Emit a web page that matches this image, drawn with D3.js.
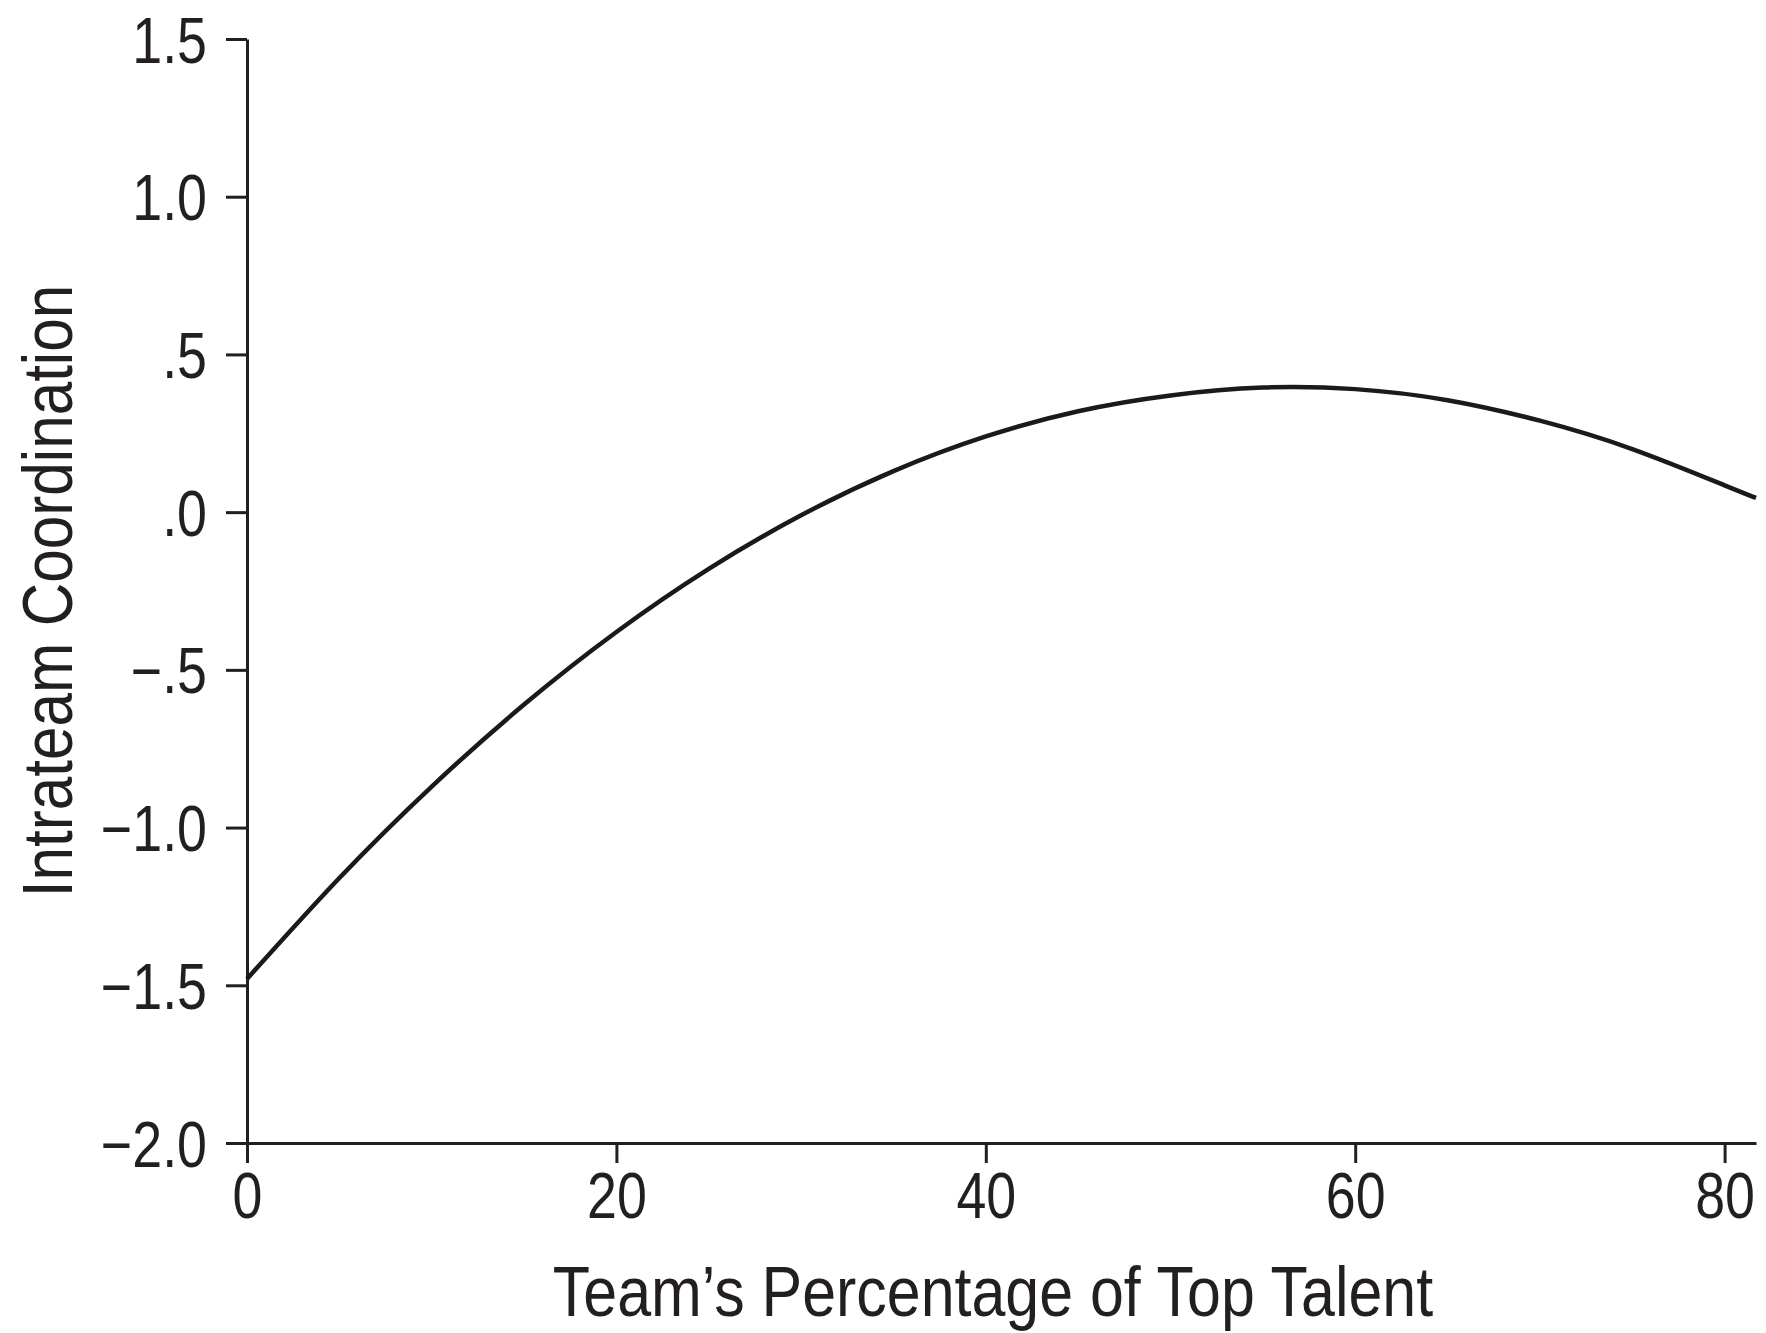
<!DOCTYPE html>
<html>
<head>
<meta charset="utf-8">
<script src="https://cdn.jsdelivr.net/npm/d3@7"></script>
<style>
  body { margin: 0; background: #fff; }
  svg text { font-family: "Liberation Sans", Arial, sans-serif; fill: #231f20; }
</style>
</head>
<body>
<div id="chart"></div>
<script>
// values
const talentPct = [0, 5, 10, 15, 20, 25, 30, 35, 40, 45, 50, 55, 60, 65, 70, 75, 80, 81.7];
const coordination = [-1.48, -1.16, -0.87, -0.61, -0.38, -0.18, -0.01, 0.13, 0.24, 0.32, 0.37, 0.395, 0.39, 0.355, 0.29, 0.20, 0.085, 0.045];
const xTicks = [0, 20, 40, 60, 80];
const yTicks = [1.5, 1.0, 0.5, 0, -0.5, -1.0, -1.5, -2.0];
const yTickLabels = ['1.5', '1.0', '.5', '.0', '\u2212.5', '\u22121.0', '\u22121.5', '\u22122.0'];

const width = 1766, height = 1333;
const margin = { top: 39, right: 10, bottom: 190, left: 247 };

// squeeze text horizontally, the original uses a condensed face
function condense(sel, k) {
  sel.each(function () {
    const w = this.getComputedTextLength();
    d3.select(this)
      .attr('textLength', w * k)
      .attr('lengthAdjust', 'spacingAndGlyphs');
  });
}

const svg = d3.select('#chart').append('svg')
  .attr('width', width)
  .attr('height', height);

const x = d3.scaleLinear()
  .domain([0, 81.7])
  .range([margin.left, width - margin.right]);

const y = d3.scaleLinear()
  .domain([-2.0, 1.5])
  .range([height - margin.bottom, margin.top]);

// y axis
const yAxis = svg.append('g')
  .attr('transform', `translate(${margin.left},0)`)
  .call(d3.axisLeft(y)
    .tickValues(yTicks)
    .tickSize(21)
    .tickSizeOuter(0)
    .tickPadding(19)
    .tickFormat((d, i) => yTickLabels[i]));

// x axis
const xAxis = svg.append('g')
  .attr('transform', `translate(0,${height - margin.bottom})`)
  .call(d3.axisBottom(x)
    .tickValues(xTicks)
    .tickSize(20)
    .tickSizeOuter(0)
    .tickPadding(9));

[yAxis, xAxis].forEach(g => {
  g.selectAll('path, line').attr('stroke', '#231f20').attr('stroke-width', 3);
  g.selectAll('text').style('font-size', '64px').attr('fill', '#231f20');
  condense(g.selectAll('text'), 0.84);
});
yAxis.selectAll('text').attr('dy', '0.36em');
xAxis.selectAll('text').attr('dy', '0.72em');

// curve
const line = d3.line()
  .x((d, i) => x(talentPct[i]))
  .y(d => y(d))
  .curve(d3.curveNatural);

svg.append('path')
  .datum(coordination)
  .attr('fill', 'none')
  .attr('stroke', '#1a1a1a')
  .attr('stroke-width', 4.5)
  .attr('d', line);

// axis titles
const xTitle = svg.append('text')
  .attr('x', 993)
  .attr('y', 1316)
  .attr('text-anchor', 'middle')
  .style('font-size', '70px')
  .text('Team\u2019s Percentage of Top Talent');

const yTitle = svg.append('text')
  .attr('transform', 'translate(72,591) rotate(-90)')
  .attr('text-anchor', 'middle')
  .style('font-size', '70px')
  .text('Intrateam Coordination');

condense(xTitle, 0.87);
condense(yTitle, 0.86);
</script>
</body>
</html>
